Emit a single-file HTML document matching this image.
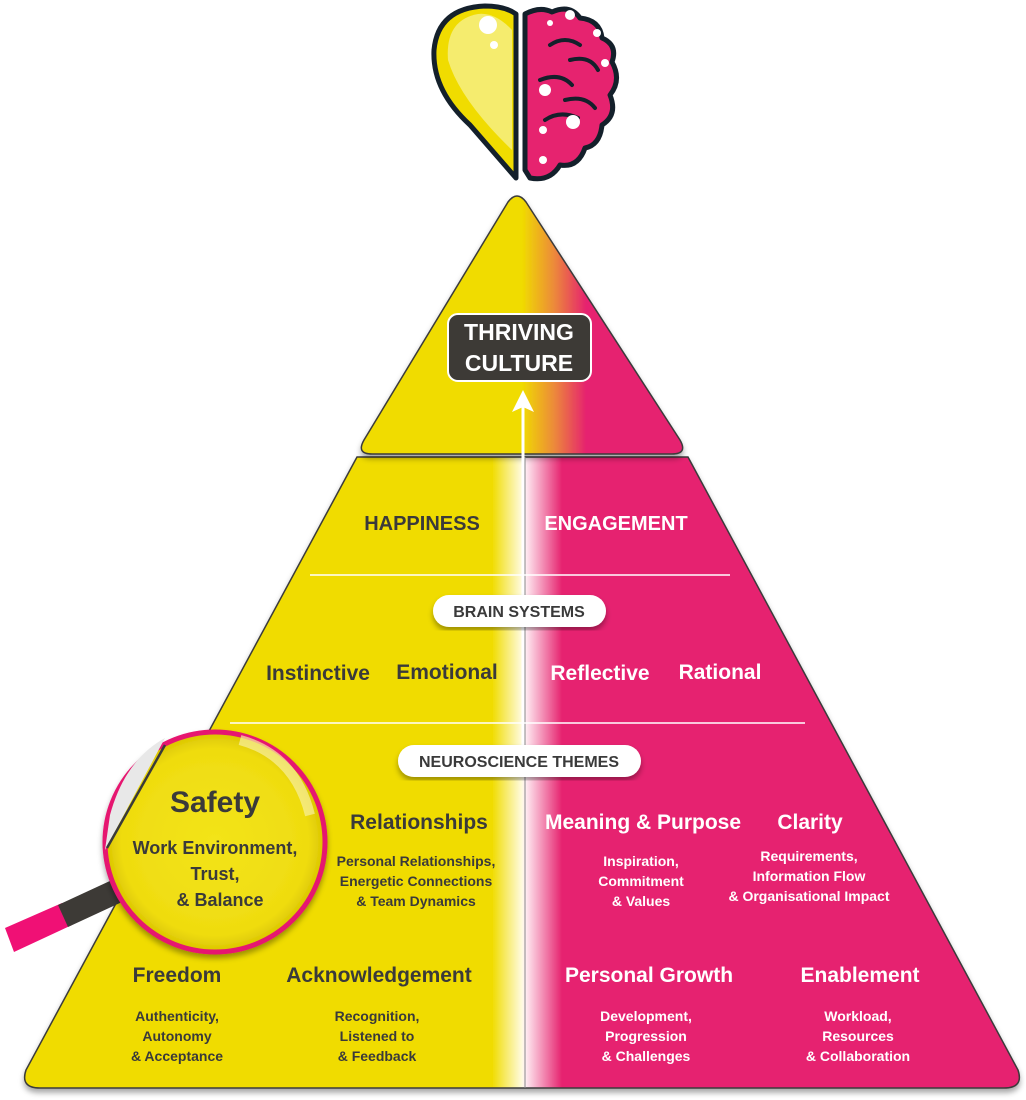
<!DOCTYPE html>
<html><head><meta charset="utf-8"><style>
html,body{margin:0;padding:0;background:#fff}
svg{display:block}
text{font-family:"Liberation Sans",sans-serif;font-weight:bold}
</style></head><body>
<svg width="1026" height="1100" viewBox="0 0 1026 1100" xmlns="http://www.w3.org/2000/svg">
<defs>
<linearGradient id="gt" x1="0" x2="1" gradientUnits="userSpaceOnUse" x1="0" y1="0" x2="0" y2="0">
</linearGradient>
<linearGradient id="top" gradientUnits="userSpaceOnUse" x1="362" y1="0" x2="682" y2="0">
<stop offset="0" stop-color="#f0dc00"/><stop offset="0.5" stop-color="#f0dc00"/>
<stop offset="0.6" stop-color="#ec8a3a"/><stop offset="0.7" stop-color="#e6236f"/><stop offset="1" stop-color="#e6236f"/>
</linearGradient>
<linearGradient id="low" gradientUnits="userSpaceOnUse" x1="22" y1="0" x2="1022" y2="0">
<stop offset="0" stop-color="#f0dc00"/><stop offset="0.47" stop-color="#f0dc00"/>
<stop offset="0.5" stop-color="#fffbe0"/><stop offset="0.503" stop-color="#fff0f5"/>
<stop offset="0.54" stop-color="#e6236f"/><stop offset="1" stop-color="#e6236f"/>
</linearGradient>
<filter id="sh" x="-10%" y="-10%" width="120%" height="120%"><feDropShadow dx="0" dy="4" stdDeviation="3" flood-color="#000" flood-opacity="0.35"/></filter>
<radialGradient id="lens" cx="0.5" cy="0.5" r="0.5"><stop offset="0" stop-color="#f3e41a"/><stop offset="0.85" stop-color="#efdc10"/><stop offset="1" stop-color="#d9c400"/></radialGradient>
</defs>

<!-- lower trapezoid -->
<path d="M357,457 L688,457 L1018,1070 Q1024,1088 1004,1088 L40,1088 Q20,1088 26,1070 Z" fill="url(#low)" stroke="#3a3a3a" stroke-width="1.5" filter="url(#sh)"/>
<!-- top triangle -->
<path d="M508,202 Q517,190 526,202 L680,440 Q688,454 672,454 L372,454 Q356,454 364,440 Z" fill="url(#top)" stroke="#3a3a3a" stroke-width="1.5" filter="url(#sh)"/>

<!-- center line -->
<line x1="525" y1="457" x2="525" y2="1088" stroke="#888" stroke-width="1"/>
<line x1="523" y1="405" x2="523" y2="760" stroke="#fff" stroke-width="3"/>
<path d="M512,412 L523,390 L534,412 L523,407 Z" fill="#fff"/>

<!-- thriving box -->
<rect x="448" y="314" width="143" height="67" rx="10" fill="#3d3a36" stroke="#fff" stroke-width="2"/>
<text x="519" y="340" fill="#fff" font-size="23" text-anchor="middle">THRIVING</text>
<text x="519" y="371" fill="#fff" font-size="23" text-anchor="middle">CULTURE</text>

<text x="422" y="530" fill="#3a3a3a" font-size="20" text-anchor="middle">HAPPINESS</text>
<text x="616" y="530" fill="#fff" font-size="20" text-anchor="middle">ENGAGEMENT</text>

<line x1="310" y1="575" x2="730" y2="575" stroke="#fff" stroke-width="1.5"/>
<line x1="230" y1="723" x2="805" y2="723" stroke="#fff" stroke-width="1.5"/>

<rect x="433" y="595" width="173" height="32" rx="16" fill="#fff" filter="url(#sh)"/>
<text x="519" y="617" fill="#3a3a3a" font-size="16" text-anchor="middle">BRAIN SYSTEMS</text>
<rect x="398" y="745" width="243" height="32" rx="16" fill="#fff" filter="url(#sh)"/>
<text x="519" y="767" fill="#3a3a3a" font-size="16" text-anchor="middle">NEUROSCIENCE THEMES</text>

<g font-size="21">
<text x="318" y="680" fill="#3a3a3a" text-anchor="middle">Instinctive</text>
<text x="447" y="679" fill="#3a3a3a" text-anchor="middle">Emotional</text>
<text x="600" y="680" fill="#fff" text-anchor="middle">Reflective</text>
<text x="720" y="679" fill="#fff" text-anchor="middle">Rational</text>
<text x="419" y="829" fill="#3a3a3a" text-anchor="middle">Relationships</text>
<text x="643" y="829" fill="#fff" text-anchor="middle">Meaning &amp; Purpose</text>
<text x="810" y="829" fill="#fff" text-anchor="middle">Clarity</text>
<text x="177" y="982" fill="#3a3a3a" text-anchor="middle">Freedom</text>
<text x="379" y="982" fill="#3a3a3a" text-anchor="middle">Acknowledgement</text>
<text x="649" y="982" fill="#fff" text-anchor="middle">Personal Growth</text>
<text x="860" y="982" fill="#fff" text-anchor="middle">Enablement</text>
</g>
<g font-size="14" text-anchor="middle">
<text x="416" y="866" fill="#3a3a3a">Personal Relationships,</text>
<text x="416" y="886" fill="#3a3a3a">Energetic Connections</text>
<text x="416" y="906" fill="#3a3a3a">&amp; Team Dynamics</text>
<text x="641" y="866" fill="#fff">Inspiration,</text>
<text x="641" y="886" fill="#fff">Commitment</text>
<text x="641" y="906" fill="#fff">&amp; Values</text>
<text x="809" y="861" fill="#fff">Requirements,</text>
<text x="809" y="881" fill="#fff">Information Flow</text>
<text x="809" y="901" fill="#fff">&amp; Organisational Impact</text>
<text x="177" y="1021" fill="#3a3a3a">Authenticity,</text>
<text x="177" y="1041" fill="#3a3a3a">Autonomy</text>
<text x="177" y="1061" fill="#3a3a3a">&amp; Acceptance</text>
<text x="377" y="1021" fill="#3a3a3a">Recognition,</text>
<text x="377" y="1041" fill="#3a3a3a">Listened to</text>
<text x="377" y="1061" fill="#3a3a3a">&amp; Feedback</text>
<text x="646" y="1021" fill="#fff">Development,</text>
<text x="646" y="1041" fill="#fff">Progression</text>
<text x="646" y="1061" fill="#fff">&amp; Challenges</text>
<text x="858" y="1021" fill="#fff">Workload,</text>
<text x="858" y="1041" fill="#fff">Resources</text>
<text x="858" y="1061" fill="#fff">&amp; Collaboration</text>
</g>

<!-- magnifier -->
<g>
<path d="M5,928 L62,903 L72,925 L14,952 Z" fill="#f01075"/>
<path d="M58,905 L112,880 L122,902 L68,927 Z" fill="#3d3a36"/>
<circle cx="215" cy="842" r="110" fill="url(#lens)" stroke="#e6156f" stroke-width="5" filter="url(#sh)"/>
<path d="M110,815 Q125,760 165,738 L105,850 Z" fill="#e8e8e8"/>
<line x1="165" y1="745" x2="107" y2="848" stroke="#3a3a3a" stroke-width="2.5"/>
<path d="M240,740 Q295,755 310,815" fill="none" stroke="#f8f0a0" stroke-width="10" opacity="0.7"/>
<text x="215" y="812" fill="#3a3a3a" font-size="30" text-anchor="middle">Safety</text>
<g font-size="18" fill="#3a3a3a" text-anchor="middle">
<text x="215" y="854">Work Environment,</text>
<text x="215" y="880">Trust,</text>
<text x="220" y="906">&amp; Balance</text>
</g>
</g>

<!-- heart / brain -->
<path d="M516,178 L516,14 Q505,6 485,6 Q438,8 434,50 Q432,90 470,125 Z" fill="#f0dc00" stroke="#14202b" stroke-width="5" stroke-linejoin="round"/>
<path d="M512,30 Q495,12 478,14 Q445,20 448,60 Q460,100 512,150 Z" fill="#f6f08a" opacity="0.8"/>
<circle cx="488" cy="25" r="9" fill="#fff"/><circle cx="494" cy="45" r="4" fill="#fff"/>
<path d="M525,14 Q540,6 552,12 Q570,4 580,18 Q600,20 602,38 Q618,45 612,62 Q622,80 610,95 Q618,115 602,125 Q600,145 585,148 Q578,168 560,165 Q550,182 530,178 L525,170 Z" fill="#e6236f" stroke="#14202b" stroke-width="5" stroke-linejoin="round"/>
<g fill="none" stroke="#14202b" stroke-width="4" stroke-linecap="round">
<path d="M550,45 Q565,35 580,45"/><path d="M540,80 Q560,72 572,85"/><path d="M545,120 Q560,110 578,118"/><path d="M570,60 Q590,55 598,70"/><path d="M565,100 Q585,95 595,108"/>
</g>
<g fill="#fff"><circle cx="570" cy="15" r="5"/><circle cx="545" cy="90" r="6"/><circle cx="573" cy="122" r="7"/><circle cx="543" cy="130" r="4"/><circle cx="543" cy="160" r="4"/><circle cx="597" cy="33" r="4"/><circle cx="605" cy="63" r="4"/><circle cx="550" cy="23" r="3"/></g>
</svg>
</body></html>
